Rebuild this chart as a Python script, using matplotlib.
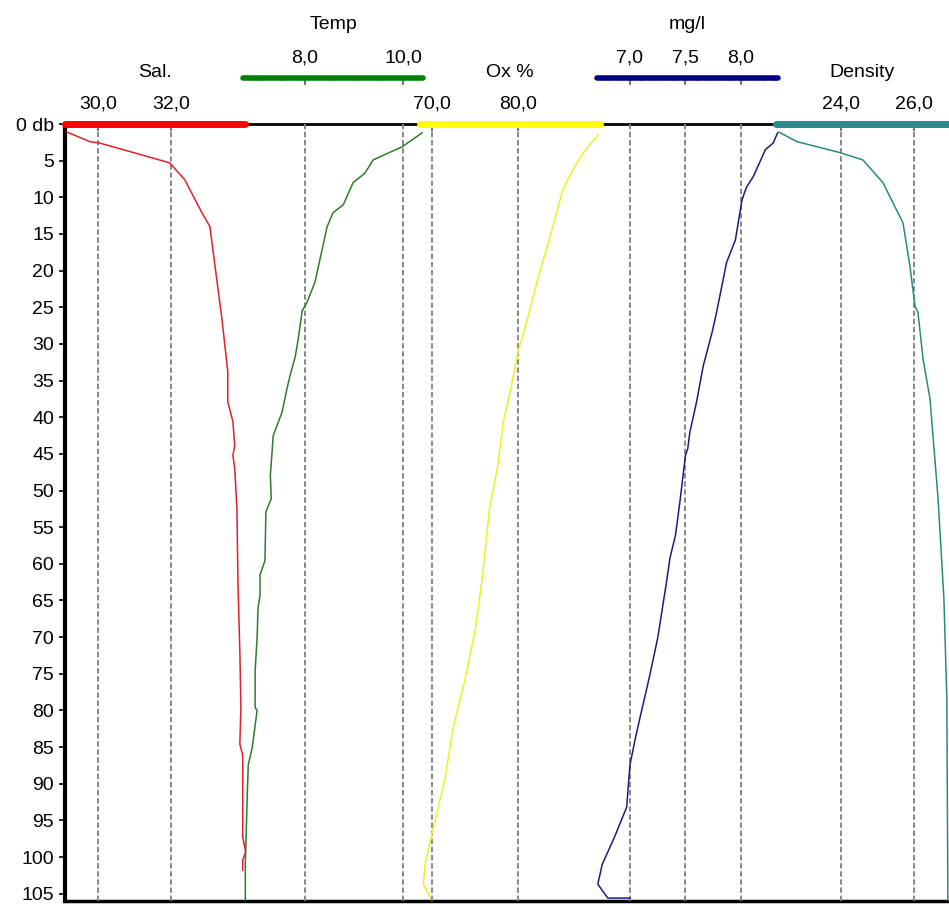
import numpy as np
import matplotlib.pyplot as plt
from matplotlib.ticker import FixedLocator, FuncFormatter

plt.rcParams['font.family'] = ['Liberation Sans', 'DejaVu Sans']

# perfiles (profundidad en db)
sal_depth = [1.1, 2.4, 2.6, 5.3, 7.6, 12.1, 14.0, 17.1, 26.6, 33.8, 37.9, 40.6, 43.9,
             45.2, 47.0, 52.4, 62.9, 71.9, 79.6, 84.6, 86.1, 97.3, 99.3, 100.4, 101.8]
sal = [29.15, 29.78, 30.05, 31.97, 32.38, 32.85, 33.07, 33.15, 33.40, 33.56, 33.56, 33.70, 33.75,
       33.70, 33.75, 33.81, 33.84, 33.89, 33.92, 33.89, 33.97, 33.97, 34.05, 33.97, 33.97]

temp_depth = [1.2, 3.1, 4.9, 6.7, 8.0, 11.0, 12.1, 14.0, 21.6, 24.3, 25.5, 29.3, 31.7, 34.4,
              36.1, 39.3, 42.5, 48.0, 51.1, 52.9, 59.6, 61.5, 64.3, 66.0, 70.1, 74.6, 79.6,
              80.0, 85.1, 87.4, 91.4, 100.9, 106.0]
temp = [10.39, 9.98, 9.39, 9.22, 8.98, 8.78, 8.57, 8.45, 8.20, 8.04, 7.94, 7.86, 7.80, 7.69,
        7.63, 7.53, 7.35, 7.29, 7.31, 7.20, 7.18, 7.08, 7.08, 7.04, 7.02, 6.98, 6.98,
        7.02, 6.92, 6.84, 6.82, 6.78, 6.78]

ox_depth = [1.5, 3.9, 6.2, 9.0, 12.1, 16.7, 21.6, 26.2, 31.1, 36.5, 40.6, 42.5, 47.0, 52.4,
            62.4, 69.2, 76.0, 82.7, 89.5, 96.3, 101.0, 103.7, 105.6]
ox = [89.3, 87.6, 86.4, 85.2, 84.5, 83.4, 82.2, 81.2, 80.0, 79.1, 78.3, 78.1, 77.6, 76.7,
      75.8, 75.0, 73.8, 72.4, 71.5, 70.1, 69.2, 69.0, 69.8]

mg_depth = [1.2, 2.6, 3.5, 7.2, 8.6, 10.3, 12.1, 15.8, 18.9, 25.7, 28.4, 33.0, 37.9, 42.0,
            44.3, 45.2, 51.5, 56.1, 59.2, 62.4, 70.1, 75.1, 81.0, 83.7, 87.4, 93.2, 97.3,
            101.0, 103.7, 105.6, 105.6]
mg = [8.33, 8.29, 8.22, 8.11, 8.05, 8.01, 7.99, 7.95, 7.87, 7.78, 7.74, 7.66, 7.60, 7.54,
      7.52, 7.50, 7.45, 7.41, 7.36, 7.33, 7.25, 7.18, 7.09, 7.05, 7.00, 6.97, 6.86,
      6.75, 6.71, 6.80, 7.00]

dens_depth = [1.1, 2.4, 3.9, 4.9, 8.0, 13.5, 19.4, 24.9, 25.7, 32.1, 37.5, 51.1, 64.7, 78.3, 106.0]
dens = [22.30, 22.79, 23.97, 24.60, 25.15, 25.70, 25.89, 26.03, 26.11, 26.25, 26.44, 26.66,
        26.82, 26.90, 26.93]

depth_ticks = list(range(0, 110, 5))
depth_labels = ['0 db'] + [str(d) for d in depth_ticks[1:]]


def coma(v, pos):
    return f"{v:.1f}".replace('.', ',')


fig = plt.figure(figsize=(9.49, 9.05), dpi=100)
ax = fig.add_axes([65 / 949, 4 / 905, 884 / 949, 777 / 905])
ax.set_ylim(106, 0)
ax.set_xlim(0, 1)
ax.set_xticks([])
ax.set_yticks(depth_ticks)
ax.set_yticklabels(depth_labels)
ax.tick_params(axis='y', length=4, width=1.2, pad=4, labelsize=14)
ax.spines['right'].set_visible(False)
ax.spines['left'].set_linewidth(3)
ax.spines['bottom'].set_linewidth(2.5)
ax.spines['top'].set_linewidth(2)


def eje(xlim, bounds, major, minor, color, lw, outward, title, title_off):
    a = ax.twiny()
    a.set_xlim(*xlim)
    for s in ['bottom', 'left', 'right']:
        a.spines[s].set_visible(False)
    sp = a.spines['top']
    sp.set_bounds(*bounds)
    sp.set_color(color)
    sp.set_linewidth(lw)
    sp.set_capstyle('round')
    sp.set_position(('outward', outward))
    a.xaxis.set_major_locator(FixedLocator(major))
    a.xaxis.set_minor_locator(FixedLocator(minor))
    a.xaxis.set_major_formatter(FuncFormatter(coma))
    a.tick_params(which='major', direction='in', length=5, width=1.5, color='#777777',
                  pad=8.5, labelsize=14)
    a.tick_params(which='minor', direction='inout', length=3, width=1.8, color='#444444')
    a.grid(True, which='major', axis='x', color='#808080', ls=(0, (3, 1.5)), lw=1.3)
    a.annotate(title, xy=(np.mean(bounds), 1), xycoords=('data', 'axes fraction'),
               xytext=(0, title_off), textcoords='offset points',
               ha='center', va='baseline', fontsize=14)
    return a


ax_sal = eje((29.10, 53.32), (29.10, 34.03), [30, 32],
             [29.5, 30.5, 31, 31.5, 32.5, 33, 33.5], '#ff0000', 5, 0, 'Sal.', 34)
ax_sal.plot(sal, sal_depth, color='#e0202a', lw=1.1)

ax_temp = eje((3.10, 21.14), (6.73, 10.41), [8, 10],
              [7, 7.5, 8.5, 9, 9.5], '#008000', 4, 33.1, 'Temp', 68.5)
ax_temp.plot(temp, temp_depth, color='#2d7d2d', lw=1.1)

ax_ox = eje((27.33, 130.12), (68.6, 89.5), [70, 80],
            [72.5, 75, 77.5, 82.5, 85, 87.5], '#ffff00', 5, 0, 'Ox %', 34)
ax_ox.plot(ox, ox_depth, color='#f0f020', lw=1.1)

ax_mg = eje((1.910, 9.874), (6.70, 8.33), [7.0, 7.5, 8.0],
            [6.8, 6.9, 7.1, 7.2, 7.3, 7.4, 7.6, 7.7, 7.8, 7.9, 8.1, 8.2, 8.3],
            '#000080', 4, 33.1, 'mg/l', 68.5)
ax_mg.plot(mg, mg_depth, color='#1c1c7a', lw=1.1)

ax_dens = eje((2.74, 26.96), (22.22, 26.96), [24, 26],
              [22.5, 23, 23.5, 24.5, 25, 25.5, 26.5], '#2a8a88', 5, 0, 'Density', 34)
ax_dens.plot(dens, dens_depth, color='#2b8a80', lw=1.1)

fig.savefig('out.png', dpi=100)
